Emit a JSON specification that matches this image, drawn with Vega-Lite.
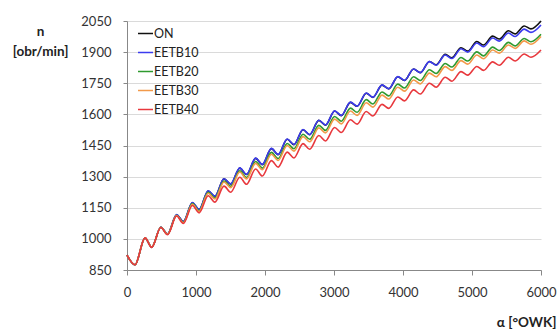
{
  "$schema": "https://vega.github.io/schema/vega-lite/v6.json",
  "width": 414,
  "height": 249,
  "autosize": {"type": "none"},
  "padding": {"left": 127, "top": 21, "right": 17, "bottom": 59},
  "background": "white",
  "config": {"view": {"stroke": null}, "font": "Lato"},
  "data": {"values": [
    {"a": 0, "ON": 922, "EETB10": 922, "EETB20": 922, "EETB30": 922, "EETB40": 922},
    {"a": 116, "ON": 875, "EETB10": 875, "EETB20": 875, "EETB30": 875, "EETB40": 875},
    {"a": 261, "ON": 1004, "EETB10": 1005, "EETB20": 1005, "EETB30": 1005, "EETB40": 1005},
    {"a": 358, "ON": 959, "EETB10": 960, "EETB20": 960, "EETB30": 960, "EETB40": 959},
    {"a": 490, "ON": 1056, "EETB10": 1057, "EETB20": 1056, "EETB30": 1056, "EETB40": 1055},
    {"a": 587, "ON": 1023, "EETB10": 1024, "EETB20": 1022, "EETB30": 1022, "EETB40": 1020},
    {"a": 719, "ON": 1116, "EETB10": 1117, "EETB20": 1114, "EETB30": 1112, "EETB40": 1110},
    {"a": 816, "ON": 1083, "EETB10": 1084, "EETB20": 1080, "EETB30": 1078, "EETB40": 1074},
    {"a": 948, "ON": 1174, "EETB10": 1175, "EETB20": 1170, "EETB30": 1167, "EETB40": 1161},
    {"a": 1045, "ON": 1141, "EETB10": 1142, "EETB20": 1136, "EETB30": 1132, "EETB40": 1125},
    {"a": 1177, "ON": 1231, "EETB10": 1232, "EETB20": 1224, "EETB30": 1220, "EETB40": 1208},
    {"a": 1274, "ON": 1205, "EETB10": 1206, "EETB20": 1197, "EETB30": 1192, "EETB40": 1177},
    {"a": 1406, "ON": 1289, "EETB10": 1290, "EETB20": 1279, "EETB30": 1274, "EETB40": 1254},
    {"a": 1503, "ON": 1264, "EETB10": 1265, "EETB20": 1253, "EETB30": 1247, "EETB40": 1225},
    {"a": 1635, "ON": 1341, "EETB10": 1342, "EETB20": 1328, "EETB30": 1322, "EETB40": 1297},
    {"a": 1732, "ON": 1310, "EETB10": 1311, "EETB20": 1296, "EETB30": 1289, "EETB40": 1263},
    {"a": 1864, "ON": 1388, "EETB10": 1389, "EETB20": 1373, "EETB30": 1364, "EETB40": 1337},
    {"a": 1961, "ON": 1358, "EETB10": 1359, "EETB20": 1341, "EETB30": 1333, "EETB40": 1303},
    {"a": 2093, "ON": 1435, "EETB10": 1436, "EETB20": 1417, "EETB30": 1408, "EETB40": 1377},
    {"a": 2190, "ON": 1406, "EETB10": 1407, "EETB20": 1387, "EETB30": 1378, "EETB40": 1346},
    {"a": 2322, "ON": 1480, "EETB10": 1481, "EETB20": 1460, "EETB30": 1450, "EETB40": 1418},
    {"a": 2419, "ON": 1454, "EETB10": 1455, "EETB20": 1434, "EETB30": 1423, "EETB40": 1390},
    {"a": 2551, "ON": 1526, "EETB10": 1527, "EETB20": 1504, "EETB30": 1493, "EETB40": 1459},
    {"a": 2648, "ON": 1502, "EETB10": 1503, "EETB20": 1480, "EETB30": 1468, "EETB40": 1432},
    {"a": 2780, "ON": 1571, "EETB10": 1572, "EETB20": 1547, "EETB30": 1535, "EETB40": 1498},
    {"a": 2877, "ON": 1548, "EETB10": 1549, "EETB20": 1523, "EETB30": 1511, "EETB40": 1472},
    {"a": 3009, "ON": 1616, "EETB10": 1617, "EETB20": 1590, "EETB30": 1577, "EETB40": 1537},
    {"a": 3106, "ON": 1594, "EETB10": 1595, "EETB20": 1567, "EETB30": 1554, "EETB40": 1513},
    {"a": 3238, "ON": 1658, "EETB10": 1659, "EETB20": 1630, "EETB30": 1616, "EETB40": 1574},
    {"a": 3335, "ON": 1639, "EETB10": 1640, "EETB20": 1610, "EETB30": 1595, "EETB40": 1553},
    {"a": 3467, "ON": 1702, "EETB10": 1703, "EETB20": 1671, "EETB30": 1656, "EETB40": 1614},
    {"a": 3564, "ON": 1682, "EETB10": 1683, "EETB20": 1650, "EETB30": 1635, "EETB40": 1592},
    {"a": 3696, "ON": 1741, "EETB10": 1742, "EETB20": 1708, "EETB30": 1693, "EETB40": 1648},
    {"a": 3793, "ON": 1723, "EETB10": 1724, "EETB20": 1689, "EETB30": 1674, "EETB40": 1629},
    {"a": 3925, "ON": 1781, "EETB10": 1782, "EETB20": 1746, "EETB30": 1731, "EETB40": 1684},
    {"a": 4022, "ON": 1763, "EETB10": 1764, "EETB20": 1727, "EETB30": 1712, "EETB40": 1665},
    {"a": 4154, "ON": 1819, "EETB10": 1819, "EETB20": 1781, "EETB30": 1766, "EETB40": 1718},
    {"a": 4251, "ON": 1801, "EETB10": 1801, "EETB20": 1763, "EETB30": 1747, "EETB40": 1698},
    {"a": 4383, "ON": 1855, "EETB10": 1854, "EETB20": 1815, "EETB30": 1799, "EETB40": 1750},
    {"a": 4480, "ON": 1839, "EETB10": 1837, "EETB20": 1797, "EETB30": 1781, "EETB40": 1731},
    {"a": 4612, "ON": 1889, "EETB10": 1886, "EETB20": 1845, "EETB30": 1830, "EETB40": 1779},
    {"a": 4709, "ON": 1873, "EETB10": 1869, "EETB20": 1828, "EETB30": 1812, "EETB40": 1760},
    {"a": 4841, "ON": 1921, "EETB10": 1916, "EETB20": 1874, "EETB30": 1859, "EETB40": 1806},
    {"a": 4938, "ON": 1905, "EETB10": 1900, "EETB20": 1857, "EETB30": 1842, "EETB40": 1789},
    {"a": 5070, "ON": 1951, "EETB10": 1944, "EETB20": 1901, "EETB30": 1886, "EETB40": 1831},
    {"a": 5167, "ON": 1934, "EETB10": 1926, "EETB20": 1882, "EETB30": 1868, "EETB40": 1812},
    {"a": 5299, "ON": 1977, "EETB10": 1968, "EETB20": 1924, "EETB30": 1910, "EETB40": 1853},
    {"a": 5396, "ON": 1963, "EETB10": 1953, "EETB20": 1908, "EETB30": 1895, "EETB40": 1837},
    {"a": 5528, "ON": 2003, "EETB10": 1992, "EETB20": 1947, "EETB30": 1934, "EETB40": 1875},
    {"a": 5625, "ON": 1988, "EETB10": 1975, "EETB20": 1930, "EETB30": 1918, "EETB40": 1857},
    {"a": 5757, "ON": 2026, "EETB10": 2011, "EETB20": 1966, "EETB30": 1954, "EETB40": 1891},
    {"a": 5854, "ON": 2012, "EETB10": 1995, "EETB20": 1950, "EETB30": 1938, "EETB40": 1875},
    {"a": 6000, "ON": 2050, "EETB10": 2031, "EETB20": 1986, "EETB30": 1975, "EETB40": 1910}
  ]},
  "transform": [{"fold": ["ON", "EETB10", "EETB20", "EETB30", "EETB40"], "as": ["series", "n"]}],
  "mark": {"type": "line", "interpolate": "monotone", "strokeWidth": 1.6},
  "encoding": {
    "x": {
      "field": "a", "type": "quantitative",
      "scale": {"domain": [0, 6000], "nice": false, "zero": false},
      "axis": {
        "values": [0, 1000, 2000, 3000, 4000, 5000, 6000],
        "grid": false,
        "title": "α [°OWK]",
        "titleFontWeight": "bold", "titleFontSize": 13.5, "titleColor": "#222",
        "titleX": 429, "titleY": 52, "titleAlign": "right", "titleBaseline": "middle",
        "labelFontSize": 13, "labelColor": "#333", "labelPadding": 11, "labelFlush": false,
        "tickSize": 5, "tickColor": "#888", "domainColor": "#888", "format": "d"
      }
    },
    "y": {
      "field": "n", "type": "quantitative",
      "scale": {"domain": [850, 2050], "nice": false, "zero": false},
      "axis": {
        "values": [850, 1000, 1150, 1300, 1450, 1600, 1750, 1900, 2050],
        "grid": true, "gridColor": "#dadada", "gridWidth": 1,
        "title": ["n", "[obr/min]"],
        "titleAngle": 0, "titleAlign": "center", "titleBaseline": "top",
        "titleX": -87, "titleY": 3, "titleLineHeight": 20,
        "titleFontWeight": "bold", "titleFontSize": 13.5, "titleColor": "#222",
        "labelFontSize": 13, "labelColor": "#333", "labelPadding": 12, "labelFlush": false,
        "tickSize": 4, "tickColor": "#888", "domainColor": "#888", "format": "d"
      }
    },
    "color": {
      "field": "series", "type": "nominal",
      "scale": {"domain": ["ON", "EETB10", "EETB20", "EETB30", "EETB40"],
                "range": ["#111111", "#3b3bef", "#2f9a2f", "#f29a4a", "#e8383d"]},
      "legend": {
        "orient": "none", "legendX": 10, "legendY": 4, "title": null,
        "symbolType": "stroke", "symbolSize": 225, "symbolStrokeWidth": 1.5,
        "labelFontSize": 12.5, "labelColor": "#222", "labelOffset": 0,
        "rowPadding": 4, "padding": 0
      }
    }
  }
}
